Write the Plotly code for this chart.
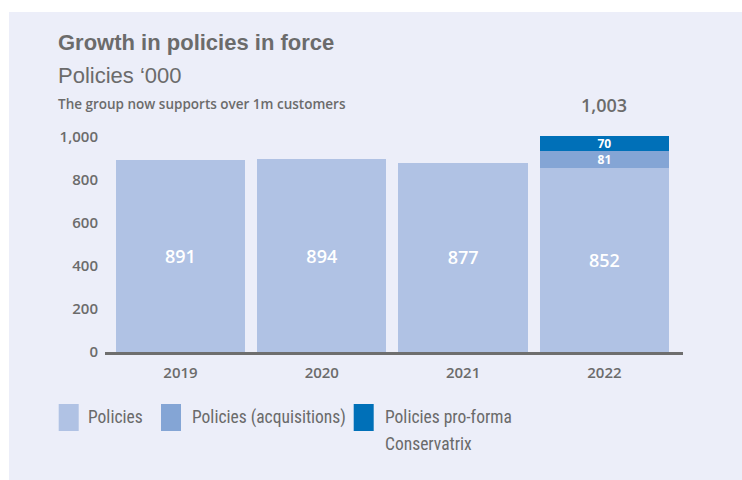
import plotly.graph_objects as go

# ---- data ----
years = ["2019", "2020", "2021", "2022"]
policies = [891, 894, 877, 852]
acquisitions = [None, None, None, 81]
conservatrix = [None, None, None, 70]
total_2022 = 1003
series_names = ["Policies", "Policies (acquisitions)", "Policies pro-forma<br>Conservatrix"]
y_ticks = [0, 200, 400, 600, 800, 1000]
y_tick_labels = ["0", "200", "400", "600", "800", "1,000"]
title_text = "Growth in policies in force"
unit_text = "Policies \u2018000"
note_text = "The group now supports over 1m customers"

# ---- style ----
W, H = 742, 480
L, R, T, B = 105, 683, 116, 352
colors = ["#b0c2e4", "#84a5d5", "#0070b8"]
label_sizes = [18, 12, 12]
label_weights = [600, 700, 700]
bg = "#eceef9"
grey = "#6b6b6b"
num_font = "Open Sans, Noto Sans, sans-serif"
narrow_font = "Liberation Sans Narrow, Roboto Condensed, Liberation Sans, Arial, sans-serif"
sans_font = "Liberation Sans, Arial, Helvetica, sans-serif"


def fx(px):
    return (px - L) / (R - L)


def fy(py):
    return (B - py) / (B - T)


def fmt(vals):
    return ["" if v is None else f"{v:,}" for v in vals]


fig = go.Figure()
for vals, name, col, fs, fw in zip([policies, acquisitions, conservatrix], series_names, colors,
                                   label_sizes, label_weights):
    fig.add_trace(go.Bar(
        x=years, y=vals, name=name.replace("<br>", " "),
        marker=dict(color=col, line=dict(width=0)),
        text=fmt(vals), textposition="inside", insidetextanchor="middle", textangle=0,
        textfont=dict(family=num_font, size=fs, color="white", weight=fw),
        showlegend=False, hoverinfo="x+y+name",
    ))

# total label (category index of the last year)
fig.add_annotation(x=len(years) - 1, y=total_2022, xref="x", yref="y", text=f"{total_2022:,}",
                   showarrow=False, yanchor="middle", yshift=31,
                   font=dict(family=num_font, size=18, color=grey, weight=600))

# background panel
fig.add_shape(type="rect", xref="paper", yref="paper", x0=fx(9), x1=fx(W + 5),
              y0=fy(12), y1=fy(H + 5), fillcolor=bg, line=dict(width=0), layer="below")

# titles
fig.add_annotation(xref="paper", yref="paper", x=fx(56), y=fy(43), xanchor="left", yanchor="middle",
                   text=f"<b>{title_text}</b>", showarrow=False,
                   font=dict(family=sans_font, size=22, color=grey))
fig.add_annotation(xref="paper", yref="paper", x=fx(56), y=fy(75), xanchor="left", yanchor="middle",
                   text=unit_text, showarrow=False,
                   font=dict(family=sans_font, size=22, color=grey))
fig.add_annotation(xref="paper", yref="paper", x=fx(56), y=fy(104), xanchor="left", yanchor="middle",
                   text=note_text, showarrow=False,
                   font=dict(family=num_font, size=13.5, color=grey, weight=600))

# custom legend
sw_x = [58.7, 161, 353.7]
tx_x = [86, 190, 382.7]
for sx, tx, name, col in zip(sw_x, tx_x, series_names, colors):
    fig.add_shape(type="rect", xref="paper", yref="paper", x0=fx(sx), x1=fx(sx + 20),
                  y0=fy(431), y1=fy(404), fillcolor=col, line=dict(width=0))
    for i, line in enumerate(name.split("<br>")):
        fig.add_annotation(xref="paper", yref="paper", x=fx(tx), y=fy(417 + 27 * i),
                           xanchor="left", yanchor="middle", text=line, showarrow=False,
                           font=dict(family=narrow_font, size=17.5, color="#6a6a6a"))

fig.update_layout(
    width=W, height=H, autosize=False,
    margin=dict(l=L, r=W - R, t=T, b=H - B, pad=0),
    paper_bgcolor="white", plot_bgcolor=bg,
    barmode="stack", bargap=0.085,
    xaxis=dict(type="category", range=[-0.534, 3.556], showgrid=False, zeroline=False,
               showline=True, linecolor="#6e6e6e", linewidth=3, ticks="",
               ticklabelstandoff=5,
               tickfont=dict(family=num_font, size=15, color=grey, weight=600)),
    yaxis=dict(range=[0, 1095], showgrid=False, zeroline=False, showline=False,
               tickvals=y_ticks, ticktext=y_tick_labels, ticks="", ticklabelstandoff=6,
               tickfont=dict(family=num_font, size=15, color=grey, weight=600)),
    uniformtext=dict(minsize=12, mode="show"),
)

fig.write_html("out.html")
